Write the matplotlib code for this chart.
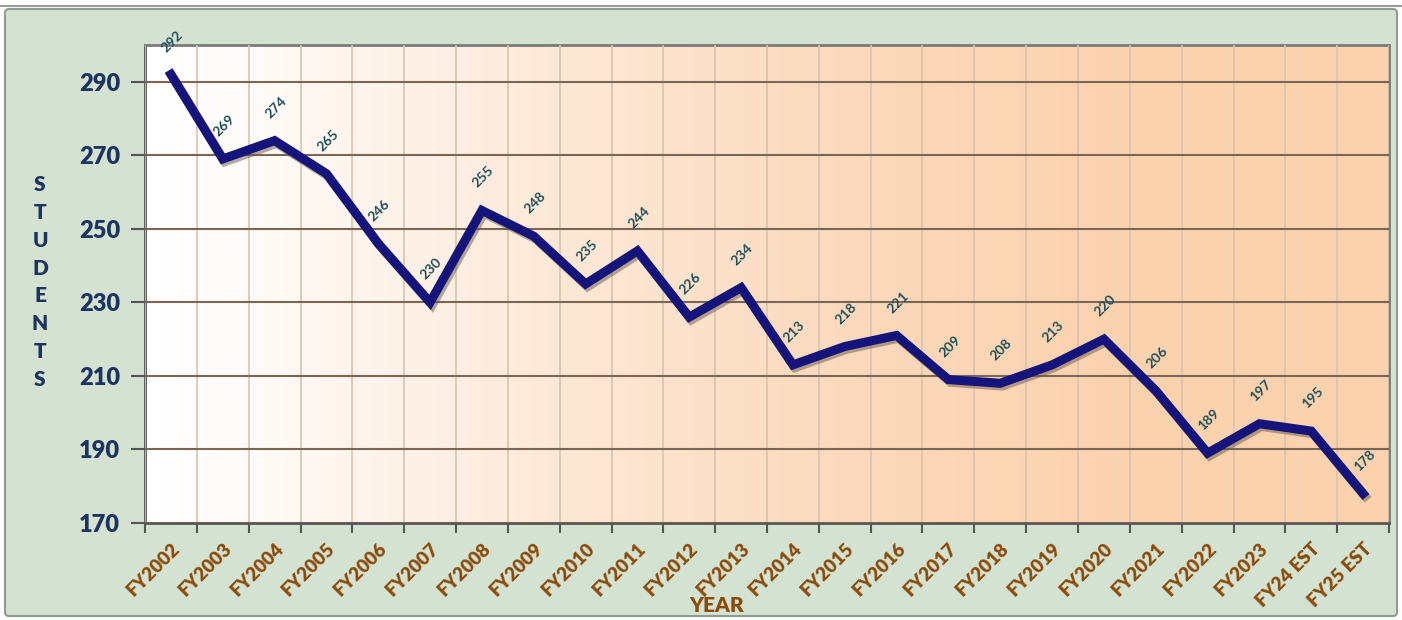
import numpy as np
import matplotlib.pyplot as plt
import matplotlib.patheffects as pe
from matplotlib.patches import FancyBboxPatch
from matplotlib.colors import LinearSegmentedColormap

plt.rcParams['font.family'] = ['Lato', 'DejaVu Sans']

years = ["FY2002", "FY2003", "FY2004", "FY2005", "FY2006", "FY2007", "FY2008",
         "FY2009", "FY2010", "FY2011", "FY2012", "FY2013", "FY2014", "FY2015",
         "FY2016", "FY2017", "FY2018", "FY2019", "FY2020", "FY2021", "FY2022",
         "FY2023", "FY24 EST", "FY25 EST"]
students = [292, 269, 274, 265, 246, 230, 255, 248, 235, 244, 226, 234, 213, 218,
            221, 209, 208, 213, 220, 206, 189, 197, 195, 178]
y_ticks = [170, 190, 210, 230, 250, 270, 290]

fig = plt.figure(figsize=(14.02, 6.2), dpi=100)
fig.patch.set_facecolor('white')

# green outer panel drawn in a background axes
bg = fig.add_axes([0, 0, 1, 1], zorder=-5)
bg.set_xlim(0, 1402)
bg.set_ylim(620, 0)
bg.axis('off')
bg.add_patch(FancyBboxPatch((5, 9), 1392, 607, boxstyle="round,pad=0,rounding_size=4",
                            facecolor='#d4e3d1', edgecolor='#8f9c8f', linewidth=1.5))
bg.plot([0, 1402], [6, 6], color='#9a9a9a', linewidth=1.5)

ax = fig.add_axes([145 / 1402, 1 - 523 / 620, 1244 / 1402, 478 / 620])
x = np.arange(len(years))
ax.set_xlim(-0.5, len(years) - 0.5)
ax.set_ylim(170, 300)

# white -> peach gradient background
cmap = LinearSegmentedColormap.from_list('bg', ['#ffffff', '#fde9d8', '#fbd9bc', '#fbd2ae'])
grad = np.linspace(0, 1, 400)
grad = np.clip(grad / 0.8, 0, 1) ** 1.2
ax.imshow(grad.reshape(1, -1), extent=[-0.5, len(years) - 0.5, 170, 300], aspect='auto',
          cmap=cmap, zorder=0, interpolation='bilinear')

# grid
ax.set_xticks(x)
ax.set_xticks(np.arange(-0.5, len(years)), minor=True)
ax.set_yticks(y_ticks)
ax.grid(True, which='minor', axis='x', color='#d9c3ae', linewidth=1.2, zorder=1)
ax.grid(True, which='major', axis='y', color='#7a6655', linewidth=1.5, zorder=1)
ax.set_axisbelow(False)

ax.plot(x, students, color='#14147a', linewidth=6.5, solid_joinstyle='miter',
        zorder=3,
        path_effects=[pe.SimpleLineShadow(offset=(1.5, -2), shadow_color='#6d5a4a', alpha=0.5),
                      pe.Normal()])

for xi, v in zip(x, students):
    ax.annotate(str(v), (xi, v), xytext=(1, 24), textcoords='offset points',
                ha='center', va='center', rotation=45, fontsize=10, fontweight='bold',
                color='#1f4f5a', zorder=4)

ax.set_xticklabels(years, rotation=45, ha='right', rotation_mode='anchor',
                   fontsize=13.5, fontweight='heavy', color='#8b4a0c')
ax.tick_params(axis='x', which='major', length=0, pad=12)
ax.tick_params(axis='x', which='minor', length=7, width=1.5, color='#555555')
ax.tick_params(axis='y', length=10, width=1.5, color='#555555', pad=8,
               labelsize=17, labelcolor='#1c3461')
for lab in ax.get_yticklabels():
    lab.set_fontweight('heavy')

for side in ['left', 'bottom']:
    ax.spines[side].set_color('#555555')
    ax.spines[side].set_linewidth(2)
for side in ['top', 'right']:
    ax.spines[side].set_color('#7a7a7a')
    ax.spines[side].set_linewidth(2)

fig.text(40 / 1402, 1 - 282 / 620, "S\nT\nU\nD\nE\nN\nT\nS", ha='center', va='center',
         fontsize=15, fontweight='heavy', color='#1c3461', linespacing=1.55)
fig.text(717 / 1402, 1 - 605 / 620, "YEAR", ha='center', va='center',
         fontsize=15, fontweight='heavy', color='#8b4a0c')

fig.savefig('out.png', dpi=100, facecolor=fig.get_facecolor())
